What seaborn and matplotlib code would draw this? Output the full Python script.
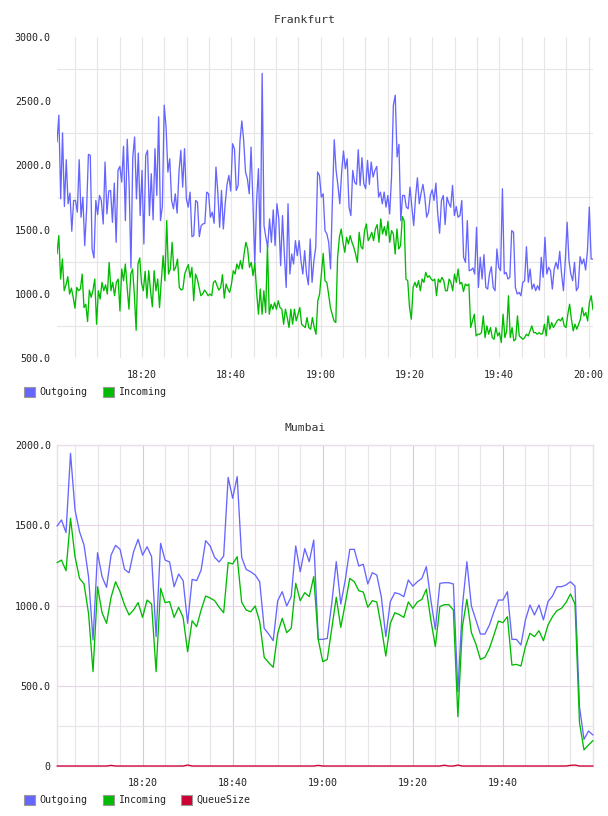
import matplotlib
matplotlib.use("Agg")
import matplotlib.pyplot as plt
import matplotlib.dates as mdates
from matplotlib.patches import Patch
from matplotlib.ticker import MultipleLocator, FixedLocator, FuncFormatter
import numpy as np
import pandas as pd
import seaborn as sns

# Frankfurt, ~30 s samples, 18:01 -> 20:01
fra_out = [
    2182, 2391, 1740, 2253, 1680, 2044, 1701, 1784, 1487, 1727,
    1727, 1636, 2044, 1596, 1753, 1375, 1649, 2086, 2078, 1349,
    1279, 1727, 1617, 1766, 1727, 1544, 2026, 1622, 1800, 1805,
    1557, 1862, 1401, 1961, 1992, 1870, 2149, 1570, 2203, 1857,
    1201, 2065, 2221, 1740, 2096, 1609, 1961, 1388, 2078, 2117,
    1609, 1935, 1576, 2130, 1766, 2378, 1570, 1680, 2469, 2300,
    1948, 2052, 1727, 1662, 1779, 1628, 1948, 2117, 1831, 2130,
    1740, 1675, 1792, 1445, 1453, 1727, 1714, 1445, 1531, 1544,
    1549, 1792, 1779, 1596, 1636, 1549, 1987, 1792, 1518, 1805,
    1505, 1701, 1852, 1922, 1800, 2169, 2130, 1805, 1844, 2190,
    2346, 2195, 1948, 1896, 1779, 2143, 1714, 1232, 1727, 1974,
    1323, 2716, 1531, 1440, 1362, 1583, 1401, 1654, 1375, 1701,
    1583, 1219, 1609, 1310, 1050, 1701, 1154, 1310, 1232, 1414,
    1297, 1414, 1258, 1154, 1336, 1154, 1070, 1427, 1089, 1258,
    1362, 1948, 1922, 1753, 1779, 1492, 1466, 1401, 1193, 1727,
    2200, 1961, 1844, 1701, 1948, 2112, 1974, 2052, 1675, 1609,
    1961, 1870, 1852, 2122, 1844, 2060, 1857, 1818, 2039, 1852,
    2026, 1909, 1961, 1992, 1753, 1792, 1701, 1792, 1675, 1766,
    1622, 1909, 2469, 2547, 2065, 2164, 1570, 1766, 1766, 1675,
    1662, 1831, 1675, 1531, 1753, 1904, 1701, 1784, 1852, 1753,
    1596, 1636, 1766, 1810, 1727, 1862, 1622, 1471, 1727, 1766,
    1539, 1753, 1706, 1675, 1844, 1609, 1680, 1596, 1609, 1727,
    1284, 1245, 1570, 1180, 1185, 1201, 1154, 1518, 1050, 1284,
    1115, 1305, 1050, 1037, 1154, 1211, 1050, 1024, 1349, 1206,
    1180, 1818, 1154, 1167, 1115, 1128, 1492, 1479, 1050, 998,
    1011, 985, 1089, 1102, 1367, 1089, 1193, 1037, 1076, 1024,
    1063, 1029, 1284, 1128, 1440, 1154, 1206, 1180, 1037, 1193,
    1245, 1193, 1331, 1154, 1024, 1258, 1557, 1258, 1154, 1102,
    1245, 1024, 1050, 1289, 1232, 1271, 1185, 1336, 1675, 1271,
    1271,
]
fra_in = [
    1310, 1453, 1115, 1271, 1024, 1070, 1133, 998, 1044, 972,
    888, 1050, 1024, 1037, 1154, 893, 919, 784, 1029, 972,
    1029, 1115, 763, 1024, 959, 1089, 1024, 1070, 998, 1245,
    1024, 1089, 985, 1089, 1115, 867, 1193, 1102, 1232, 1050,
    880, 1154, 1193, 998, 716, 1232, 1279, 1081, 1024, 1175,
    966, 1180, 1024, 899, 1180, 1024, 1115, 893, 1102, 1297,
    1102, 1570, 1154, 1193, 1401, 1180, 1206, 1271, 1050, 1029,
    1037, 1154, 1193, 1227, 1128, 1206, 946, 1154, 1115, 1050,
    985, 998, 1029, 1011, 985, 998, 985, 1089, 1102, 1063,
    1029, 1050, 1149, 966, 1076, 1037, 1011, 1076, 1180, 1154,
    1232, 1193, 1258, 1193, 1310, 1401, 1349, 1206, 1245, 1141,
    1237, 1011, 841, 1037, 841, 1024, 854, 1375, 841, 919,
    880, 932, 880, 946, 893, 880, 763, 880, 815, 737,
    880, 763, 880, 789, 841, 893, 763, 750, 737, 815,
    737, 724, 815, 737, 685, 946,
    998, 1154, 1315, 1102, 1089, 998, 893, 841, 789, 776,
    1284, 1440, 1505, 1401, 1323, 1440, 1388, 1453, 1401, 1362,
    1310, 1245, 1479, 1367, 1349, 1492, 1544, 1414, 1440, 1479,
    1414, 1505, 1539, 1401, 1583, 1466, 1523, 1453, 1565, 1401,
    1492, 1466, 1310, 1505, 1349, 1375, 1601, 1570, 1115, 1102,
    893, 802, 1050, 1089, 1050, 1102, 1024, 1115, 1089, 1167,
    1128, 1141, 1115, 1102, 1115, 985, 1115, 1089, 1128, 1102,
    1024, 1024, 1115, 1089, 1024, 1154, 1089, 1193, 1076, 1089,
    1018, 1076, 1063, 1076, 737, 789, 841, 672, 685, 685,
    698, 828, 659, 750, 685, 737, 659, 646, 737, 672,
    698, 620, 841, 659, 711, 985, 659, 737, 633, 646,
    828, 672, 659, 646, 659, 685, 672, 711, 750, 698,
    698, 685, 698, 685, 690, 763, 672, 828, 724, 776,
    737, 763, 789, 802, 789, 815, 750, 737, 841, 919,
    802, 711, 763, 724, 763, 802, 893, 828, 854, 789,
    932, 985, 875,
]

# Mumbai, 1 min samples, 18:01 -> 20:00
mum_out = [
    1495, 1533, 1454, 1948, 1595, 1460, 1377, 1180, 785, 1329,
    1180, 1113, 1314, 1375, 1350, 1225, 1204, 1335, 1412, 1314,
    1366, 1304, 806, 1387, 1283, 1271, 1117, 1196, 1155, 889,
    1163, 1155, 1221, 1404, 1371, 1300, 1271, 1308, 1798, 1668,
    1803, 1300, 1225, 1210, 1190, 1148, 858, 822, 781, 1030,
    1086, 997, 1055, 1371, 1210, 1354, 1273, 1408, 789, 789,
    795, 1013, 1273, 1009, 1159, 1350, 1350, 1246, 1257, 1134,
    1204, 1190, 1055, 806, 1024, 1080, 1072, 1055, 1159, 1121,
    1148, 1169, 1242, 1034, 851, 1138, 1142, 1142, 1134, 463,
    993, 1273, 997, 910, 822, 822, 878, 961, 1034, 1034,
    1086, 789, 789, 754, 910, 1003, 941, 1003, 910, 1024,
    1059, 1117, 1117, 1128, 1148, 1121, 370, 166, 218, 193,
]
mum_in = [
    1267, 1283, 1217, 1543, 1304, 1169, 1134, 951, 588, 1117,
    955, 889, 1051, 1148, 1086, 1003, 941, 972, 1018, 926,
    1034, 1009, 588, 1107, 1018, 1024, 926, 989, 926, 712,
    905, 868, 972, 1059, 1047, 1030, 989, 955, 1267, 1259,
    1304, 1020, 972, 961, 997, 899, 677, 644, 615, 827,
    920, 831, 858, 1138, 1030, 1080, 1055, 1180, 789, 650,
    664, 856, 1051, 864, 1013, 1169, 1148, 1092, 1084, 989,
    1030, 1022, 868, 685, 889, 955, 943, 926, 1022, 982,
    1022, 1038, 1101, 910, 744, 993, 1005, 1005, 972, 308,
    868, 1038, 831, 760, 664, 677, 733, 816, 903, 893,
    930, 629, 633, 623, 744, 827, 806, 843, 781, 878,
    930, 968, 982, 1018, 1072, 1009, 270, 100, 131, 158,
]
mum_queue = [
    0, 0, 0, 0, 0, 0, 0, 0, 0, 0, 0, 0, 4, 0, 0, 0, 0, 0, 0, 0,
    0, 0, 0, 0, 0, 0, 0, 0, 0, 6, 0, 0, 0, 0, 0, 0, 0, 0, 0, 0,
    0, 0, 0, 0, 0, 0, 0, 0, 0, 0, 0, 0, 0, 0, 0, 0, 0, 0, 4, 0,
    0, 0, 0, 0, 0, 0, 0, 0, 0, 0, 0, 0, 0, 0, 0, 0, 0, 0, 0, 0,
    0, 0, 0, 0, 0, 0, 5, 0, 0, 6, 0, 0, 0, 0, 0, 0, 0, 0, 0, 0,
    0, 0, 0, 0, 0, 0, 0, 0, 0, 0, 0, 0, 0, 0, 4, 6, 0, 0, 0, 0,
]

colors = {"Outgoing": "#6666ff", "Incoming": "#00bb00", "QueueSize": "#cc0033"}
day = "2013-01-01 "


def frame(values, start, end, name):
    t = pd.date_range(day + start, day + end, periods=len(values))
    return pd.DataFrame({"time": t, "value": values, "series": name})


fra = pd.concat([frame(fra_out, "18:01", "20:01", "Outgoing"),
                 frame(fra_in, "18:01", "20:01", "Incoming")])
mum = pd.concat([frame(mum_out, "18:01", "20:00", "Outgoing"),
                 frame(mum_in, "18:01", "20:00", "Incoming"),
                 frame(mum_queue, "18:01", "20:00", "QueueSize")])

sns.set_style("white")
plt.rcParams["font.family"] = ["DejaVu Sans Mono", "DejaVu Sans"]

fig = plt.figure(figsize=(6.08, 8.16), dpi=100)
ax1 = fig.add_axes([57 / 608, 1 - 358 / 816, 536 / 608, 321 / 816])
ax2 = fig.add_axes([57 / 608, 1 - 766 / 816, 536 / 608, 321 / 816])

sns.lineplot(data=fra, x="time", y="value", hue="series", palette=colors,
             ax=ax1, legend=False, linewidth=0.95, estimator=None)
sns.lineplot(data=mum, x="time", y="value", hue="series", palette=colors,
             ax=ax2, legend=False, linewidth=0.95, estimator=None)
# queue line sits on the bottom edge, keep it whole
for line in ax2.get_lines():
    line.set_clip_on(False)
    line.set_zorder(3)

fmt_time = mdates.DateFormatter("%H:%M")
fmt_val = FuncFormatter(lambda v, p: "0" if v == 0 else f"{v:.1f}")

# top panel
ax1.set_xlim(pd.Timestamp(day + "18:01"), pd.Timestamp(day + "20:01"))
ax1.set_ylim(500, 3000)
ax1.xaxis.set_major_locator(mdates.MinuteLocator(byminute=[0, 20, 40]))
ax1.xaxis.set_minor_locator(mdates.MinuteLocator(byminute=range(0, 60, 5)))
ax1.xaxis.set_major_formatter(fmt_time)
ax1.yaxis.set_major_locator(MultipleLocator(500))
ax1.yaxis.set_minor_locator(FixedLocator(np.arange(750, 3000, 500)))
ax1.yaxis.set_major_formatter(fmt_val)
ax1.grid(True, axis="x", which="both", color="#e6e6e6", lw=0.8)
ax1.grid(True, axis="y", which="minor", color="#e6e6e6", lw=0.8)
for s in ax1.spines.values():
    s.set_visible(False)

# bottom panel
ax2.set_xlim(pd.Timestamp(day + "18:01"), pd.Timestamp(day + "20:00"))
ax2.set_ylim(0, 2000)
ax2.set_xticks(pd.date_range(day + "18:20", day + "19:40", freq="20min"))
ax2.xaxis.set_minor_locator(mdates.MinuteLocator(byminute=range(0, 60, 5)))
ax2.xaxis.set_major_formatter(fmt_time)
ax2.yaxis.set_major_locator(MultipleLocator(500))
ax2.yaxis.set_minor_locator(MultipleLocator(250))
ax2.yaxis.set_major_formatter(fmt_val)
ax2.grid(True, axis="x", which="major", color="#dcc8dc", lw=0.8)
ax2.grid(True, axis="x", which="minor", color="#ebe3eb", lw=0.8)
ax2.grid(True, axis="y", which="major", color="#ead4ea", lw=0.8)
ax2.grid(True, axis="y", which="minor", color="#ebe3eb", lw=0.8)
for s in ax2.spines.values():
    s.set_color("#ecdcec")
    s.set_linewidth(1)

for ax in (ax1, ax2):
    ax.set_axisbelow(True)
    ax.set_xlabel("")
    ax.set_ylabel("")
    ax.tick_params(which="both", length=0, labelsize=7.2, colors="#222222")
    ax.tick_params(axis="x", pad=9)
    ax.tick_params(axis="y", pad=4.5)

fig.text(305 / 608, 1 - 20 / 816, "Frankfurt", ha="center", va="center",
         fontsize=8.2, color="#333333")
fig.text(305 / 608, 1 - 428 / 816, "Mumbai", ha="center", va="center",
         fontsize=8.2, color="#333333")


def legend(names, y):
    handles = [Patch(facecolor=colors[n], edgecolor="#999999", lw=0.8, label=n)
               for n in names]
    fig.legend(handles=handles, loc="center left",
               bbox_to_anchor=(24 / 608, 1 - y / 816), ncol=len(names),
               frameon=False, fontsize=7.2, borderpad=0, borderaxespad=0,
               handlelength=1.1, handleheight=1.1, handletextpad=0.45,
               columnspacing=1.5)


legend(["Outgoing", "Incoming"], 392)
legend(["Outgoing", "Incoming", "QueueSize"], 800)

fig.savefig("out.png", dpi=100)
